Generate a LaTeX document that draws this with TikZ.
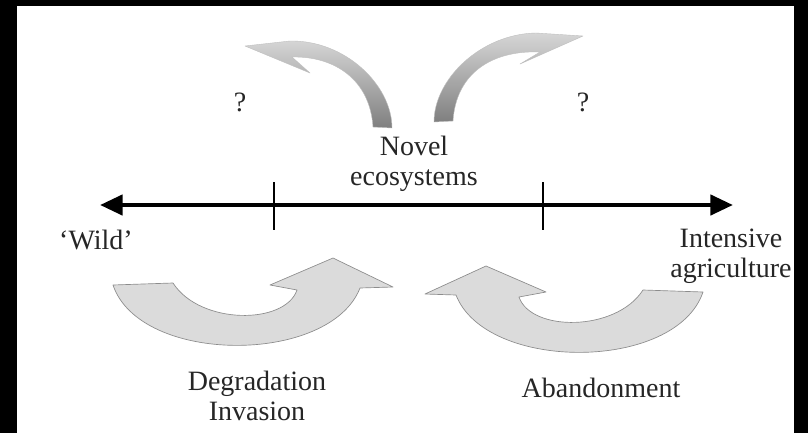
\documentclass[tikz,border=0pt]{standalone}
\usepackage{fontspec}
\setmainfont{Liberation Serif}
\usetikzlibrary{arrows.meta,positioning}

\begin{document}
\begin{tikzpicture}[x=0.75pt,y=-0.75pt,
    every node/.style={font=\fontsize{21}{22.5}\selectfont, text=black!85, align=center, inner sep=0pt},
    bigarrow/.style={fill=black!14, draw=black!45, line width=0.5pt, line join=round},
    smallarrow/.style={top color=black!16, bottom color=black!50, draw=black!25, line width=0.3pt, line join=round}]
    \useasboundingbox (0,0) rectangle (808,433);
    \fill[black] (0,0) rectangle (808,433);
    \fill[white] (17,6) rectangle (794,433);
    % gradient
    \coordinate (wl) at (100,205);
    \coordinate (wr) at (733,205);
    \draw[line width=3.4pt, {Triangle[length=17pt,width=15pt]}-{Triangle[length=17pt,width=15pt]}] (wl) -- (wr);
    \foreach \n/\x in {ta/274,tb/543}{
        \coordinate (\n1) at (\x,182); \coordinate (\n2) at (\x,230);
        \draw[line width=1.3pt] (\n1) -- (\n2);
    }
    \node (novel) at (414,164) {Novel\\ecosystems};
    \node (wild) at (96,240) {`Wild'};
    \node (intens) at (731,256) {Intensive\\agriculture};
    \node (degr) at (257,396) {Degradation\\Invasion};
    \node (aband) at (601,388) {Abandonment};
    \node (qa) at (240,102) {?};
    \node (qb) at (583,102) {?};
    % lower arrows
    \draw[bigarrow] (113,285) .. controls (140,365) and (330,365) .. (360,288) -- (393,287) -- (333,258)
        -- (270,285) -- (297,290) .. controls (285,325) and (200,325) .. (173,283) -- cycle;
    \draw[bigarrow] (703,292) .. controls (676,372) and (486,372) .. (456,295) -- (425,294) -- (486,266)
        -- (546,292) -- (519,297) .. controls (531,332) and (616,332) .. (643,290) -- cycle;
    % upper arrows
    \draw[smallarrow] (373,127) .. controls (370,80) and (335,56) .. (292,57) -- (310,73) -- (245,46)
        -- (290,41) .. controls (345,40) and (392,85) .. (392,128) -- cycle;
    \draw[smallarrow] (453,121) .. controls (456,74) and (491,50) .. (540,52) -- (520,64) -- (583,36)
        -- (536,33) .. controls (481,34) and (434,79) .. (434,122) -- cycle;
\end{tikzpicture}
\end{document}
